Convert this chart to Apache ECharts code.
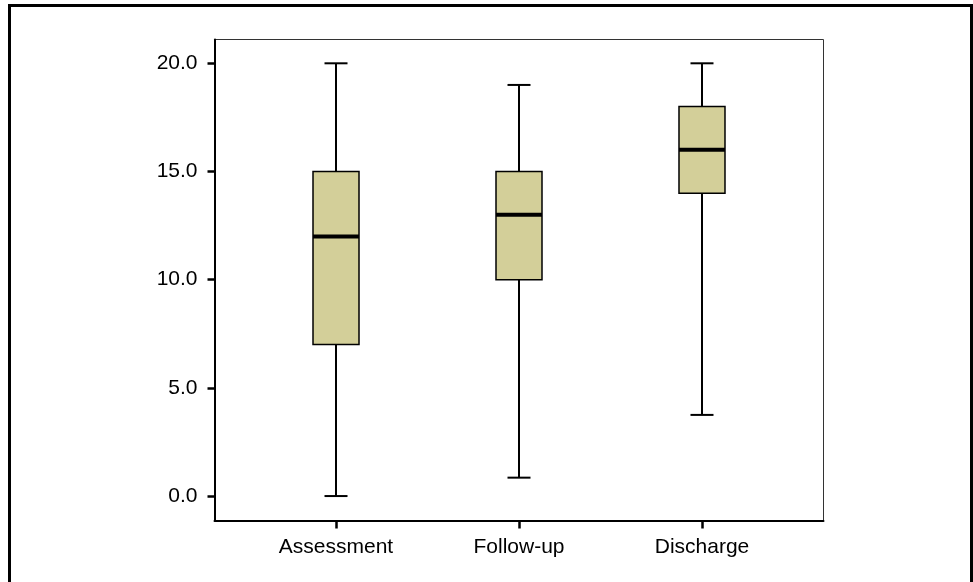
<!DOCTYPE html>
<html>
<head>
<meta charset="utf-8">
<script src="https://cdn.jsdelivr.net/npm/echarts@6/dist/echarts.min.js"></script>
<style>
  html, body { margin: 0; padding: 0; background: #fff; }
  #chart { position: absolute; left: 0; top: 0; width: 973px; height: 582px; }
  #frame { position: absolute; left: 8px; top: 4px; width: 959px; height: 620px; border: 3px solid #000; pointer-events: none; }
</style>
</head>
<body>
<div id="chart"></div>
<div id="frame"></div>
<script>
// box plot stats
const categories = ['Assessment', 'Follow-up', 'Discharge']
const lowValues = [0, 0.85, 3.75]
const q1Values = [7, 10, 14]
const medianValues = [12, 13, 16]
const q3Values = [15, 15, 18]
const highValues = [20, 19, 20]
const yTicks = [0, 5, 10, 15, 20]

const boxWidth = 46
const capWidth = 23
const fontFamily = "'Liberation Sans', Arial, sans-serif"

const boxData = categories.map((name, i) => (
  [i + 1, lowValues[i], q1Values[i], medianValues[i], q3Values[i], highValues[i]]
))

const renderBox = (params, api) => {
  const x = api.value(0)
  const low = api.coord([x, api.value(1)])
  const q1 = api.coord([x, api.value(2)])
  const med = api.coord([x, api.value(3)])
  const q3 = api.coord([x, api.value(4)])
  const high = api.coord([x, api.value(5)])
  const cx = low[0]
  const line = (x1, y1, x2, y2, w) => ({
    type: 'line',
    shape: { x1, y1, x2, y2 },
    style: { stroke: '#000', lineWidth: w }
  })
  return {
    type: 'group',
    children: [
      line(cx, low[1], cx, q1[1], 2),
      line(cx, q3[1], cx, high[1], 2),
      line(cx - capWidth / 2, low[1], cx + capWidth / 2, low[1], 2),
      line(cx - capWidth / 2, high[1], cx + capWidth / 2, high[1], 2),
      {
        type: 'rect',
        shape: { x: cx - boxWidth / 2, y: q3[1], width: boxWidth, height: q1[1] - q3[1] },
        style: { fill: '#d3cf99', stroke: '#000', lineWidth: 1.5 }
      },
      line(cx - boxWidth / 2, med[1], cx + boxWidth / 2, med[1], 4)
    ]
  }
}

const chart = echarts.init(document.getElementById('chart'))
chart.setOption({
  animation: false,
  backgroundColor: '#fff',
  grid: {
    left: 214.5,
    right: 149.5,
    top: 39.5,
    bottom: 61.5,
    show: true,
    borderColor: '#333',
    borderWidth: 1
  },
  xAxis: {
    type: 'value',
    min: 0.336,
    max: 3.664,
    splitLine: { show: false },
    axisLine: { show: true, onZero: false, lineStyle: { color: '#000', width: 2 } },
    axisTick: { show: true, customValues: [1, 2, 3], length: 8, lineStyle: { color: '#000', width: 2.5 } },
    axisLabel: {
      customValues: [1, 2, 3],
      formatter: v => categories[Math.round(v) - 1] || '',
      color: '#000',
      fontSize: 21,
      fontFamily,
      margin: 16
    }
  },
  yAxis: {
    type: 'value',
    min: -1.13,
    max: 21.1,
    splitLine: { show: false },
    axisLine: { show: true, onZero: false, lineStyle: { color: '#000', width: 2 } },
    axisTick: { show: true, customValues: yTicks, length: 7, lineStyle: { color: '#000', width: 2.5 } },
    axisLabel: {
      customValues: yTicks,
      formatter: v => v.toFixed(1),
      color: '#000',
      fontSize: 21,
      fontFamily,
      margin: 17
    }
  },
  series: [{
    type: 'custom',
    renderItem: renderBox,
    encode: { x: 0, y: [1, 2, 3, 4, 5] },
    data: boxData
  }]
})
</script>
</body>
</html>
